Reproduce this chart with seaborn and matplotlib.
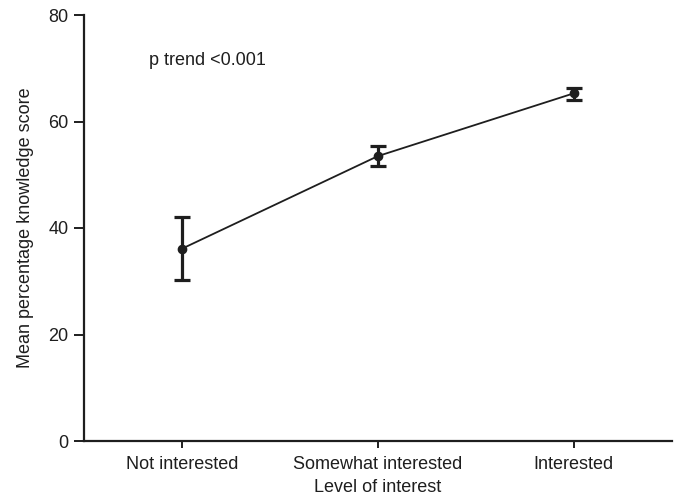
import matplotlib
matplotlib.use("Agg")
import matplotlib.pyplot as plt
import seaborn as sns
import pandas as pd
import numpy as np

# Mean knowledge score by level of interest, with 95% CI bounds
levels = ["Not interested", "Somewhat interested", "Interested"]
mean_score = [36.1, 53.5, 65.3]
ci_lower = [30.2, 51.6, 64.1]
ci_upper = [42.0, 55.4, 66.3]
y_ticks = [0, 20, 40, 60, 80]

sns.set_theme(style="ticks")
plt.rcParams["font.family"] = ["Liberation Sans", "DejaVu Sans"]

df = pd.DataFrame({"level": levels, "score": mean_score})

fig = plt.figure(figsize=(6.76, 5.0), dpi=100)
ax = fig.add_axes([0.124, 0.118, 0.87, 0.852])

ink = "#1e1e1e"
sns.pointplot(data=df, x="level", y="score", order=levels, errorbar=None,
              color=ink, markers="o", markersize=6, linewidth=1.3, ax=ax)

xpos = np.arange(len(levels))
mean = np.array(mean_score)
yerr = np.vstack([mean - np.array(ci_lower), np.array(ci_upper) - mean])
ax.errorbar(xpos, mean, yerr=yerr, fmt="none", ecolor=ink, elinewidth=2.3,
            capsize=6, capthick=2.3, zorder=3)

ax.set_xlim(-0.5, 2.5)
ax.set_ylim(0, 80)
ax.set_yticks(y_ticks)
ax.set_xlabel("Level of interest", fontsize=13, color=ink, labelpad=4)
ax.set_ylabel("Mean percentage knowledge score", fontsize=13, color=ink, labelpad=10)
ax.tick_params(axis="both", labelsize=13, colors=ink, width=1.4)
ax.tick_params(axis="y", length=7, pad=4)
ax.tick_params(axis="x", length=5, pad=6)

for side in ["top", "right"]:
    ax.spines[side].set_visible(False)
for side in ["left", "bottom"]:
    ax.spines[side].set_linewidth(1.6)
    ax.spines[side].set_color(ink)

ax.text(-0.17, 71.5, "p trend <0.001", fontsize=13, color=ink, va="center", ha="left")

fig.savefig("out.png", dpi=100)
